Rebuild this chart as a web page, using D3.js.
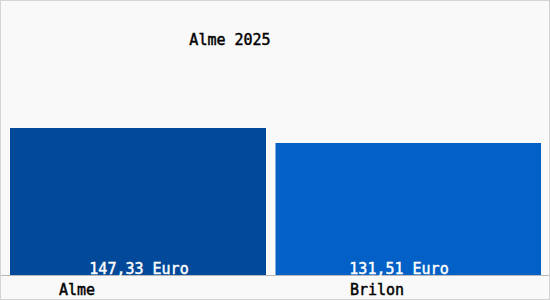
<!DOCTYPE html>
<html>
<head>
<meta charset="utf-8">
<script src="https://cdn.jsdelivr.net/npm/d3@7"></script>
<style>
  body { margin: 0; background: #fff; }
  text { font-family: "DejaVu Sans Mono", monospace; font-size: 15px; stroke-width: 0.45px; }
</style>
</head>
<body>
<div id="chart"></div>
<script>
var categories = ['Alme', 'Brilon'];
var values = [147.33, 131.51];
var valueLabels = ['147,33 Euro', '131,51 Euro'];
var barColors = ['#03499a', '#0260c6'];
var title = 'Alme 2025';

function DrawBar() {
  var width = 550,
      height = 300,
      baseY = 275,
      gap = 9.5;

  var svg = d3.select('#chart')
    .append('svg')
    .attr('width', width)
    .attr('height', height);

  svg.append('rect')
    .attr('x', 0.5)
    .attr('y', 0.5)
    .attr('width', width - 1)
    .attr('height', height - 1)
    .style('fill', '#f9f9f9')
    .style('stroke', '#d4d4d4');

  // slot edges; every bar but the last leaves a gap on its right
  var xScale = d3.scaleLinear()
    .domain([0, categories.length])
    .range([10, 541]);

  // 1px per euro
  var yScale = d3.scaleLinear()
    .domain([0, baseY])
    .range([baseY, 0]);

  svg.selectAll('rect.bar')
    .data(values)
    .enter()
    .append('rect')
    .attr('class', 'bar')
    .attr('x', function(d, i) { return xScale(i); })
    .attr('y', function(d) { return Math.round(yScale(d)); })
    .attr('width', function(d, i) {
      return xScale(i + 1) - xScale(i) - (i < values.length - 1 ? gap : 0);
    })
    .attr('height', function(d) { return baseY - Math.round(yScale(d)); })
    .style('fill', function(d, i) { return barColors[i]; });

  svg.append('line')
    .attr('x1', 1)
    .attr('x2', width - 1)
    .attr('y1', baseY + 0.5)
    .attr('y2', baseY + 0.5)
    .style('stroke', '#b8b8b8');

  var valueX = d3.scalePoint()
    .domain(categories)
    .range([139, 399]);

  svg.selectAll('text.value')
    .data(valueLabels)
    .enter()
    .append('text')
    .attr('class', 'value')
    .attr('x', function(d, i) { return valueX(categories[i]); })
    .attr('y', 274)
    .attr('text-anchor', 'middle')
    .style('fill', '#fff')
    .style('stroke', '#fff')
    .text(function(d) { return d; });

  var catX = d3.scalePoint()
    .domain(categories)
    .range([77, 377]);

  svg.selectAll('text.cat')
    .data(categories)
    .enter()
    .append('text')
    .attr('class', 'cat')
    .attr('x', function(d) { return catX(d); })
    .attr('y', 295)
    .attr('text-anchor', 'middle')
    .style('fill', '#000')
    .style('stroke', '#000')
    .text(function(d) { return d; });

  svg.append('text')
    .attr('x', 230)
    .attr('y', 45)
    .attr('text-anchor', 'middle')
    .style('fill', '#000')
    .style('stroke', '#000')
    .text(title);
}

DrawBar();
</script>
</body>
</html>
